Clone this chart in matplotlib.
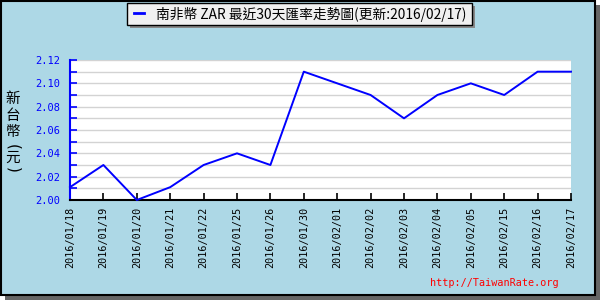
import matplotlib.pyplot as plt
import matplotlib.patches as mpatches
import numpy as np

plt.rcParams['font.family'] = ['DejaVu Sans Mono', 'Noto Sans CJK TC']

DATES = ["2016/01/18", "2016/01/19", "2016/01/20", "2016/01/21", "2016/01/22",
         "2016/01/25", "2016/01/26", "2016/01/30", "2016/02/01", "2016/02/02",
         "2016/02/03", "2016/02/04", "2016/02/05", "2016/02/15", "2016/02/16",
         "2016/02/17"]
RATES = [2.011, 2.030, 2.000, 2.011, 2.030, 2.040, 2.030, 2.110, 2.100, 2.090,
         2.070, 2.090, 2.100, 2.090, 2.110, 2.110]
Y_TICKS = [2.00, 2.02, 2.04, 2.06, 2.08, 2.10, 2.12]

TITLE = "南非幣 ZAR 最近30天匯率走勢圖(更新:2016/02/17)"
Y_LABEL = "新台幣(元)"
FOOTER = "http://TaiwanRate.org"

BG = "#add8e6"
W, H = 600, 300
CJK = ["Noto Sans CJK TC", "DejaVu Sans"]


def px(x0, y0, w, h):
    # pixel box (top-left origin) -> figure fraction (x, y, w, h)
    return (x0 / W, 1 - (y0 + h) / H, w / W, h / H)


def rect(x0, y0, w, h, **kw):
    x, y, ww, hh = px(x0, y0, w, h)
    return mpatches.Rectangle((x, y), ww, hh, transform=fig.transFigure, **kw)


fig = plt.figure(figsize=(6, 3), dpi=100)
fig.patch.set_facecolor("white")

# shadow + light-blue panel
fig.add_artist(rect(5, 5, 595, 295, facecolor="#666666", edgecolor="none", zorder=-20))
fig.add_artist(rect(0.5, 0.5, 594, 294, facecolor=BG, edgecolor="black",
                    linewidth=1.5, zorder=-10))

ax = fig.add_axes(px(70, 60, 501, 140))
ax.set_facecolor("white")
x = np.arange(len(DATES))
ax.plot(x, RATES, color="#0000ff", linewidth=1.4, zorder=3, clip_on=False)

ax.set_xlim(0, len(DATES) - 1)
ax.set_ylim(2.00, 2.12)
ax.set_yticks(Y_TICKS)
ax.set_yticklabels([f"{v:.2f}" for v in Y_TICKS], color="#0000ff", fontsize=7.5)
ax.set_yticks(np.arange(2.00, 2.121, 0.01), minor=True)
ax.grid(axis="y", which="both", color="#d3d3d3", linewidth=1)
ax.set_axisbelow(True)

ax.set_xticks(x)
ax.set_xticklabels(DATES, rotation=90, fontsize=7.3, color="black")

ax.tick_params(axis="y", which="both", direction="in", color="#0000ff",
               length=5, width=1.2, pad=7)
ax.tick_params(axis="x", direction="in", color="black", length=5, width=1.2, pad=5)

for s in ["top", "right"]:
    ax.spines[s].set_visible(False)
ax.spines["left"].set_color("#0000ff")
ax.spines["left"].set_linewidth(1.5)
ax.spines["bottom"].set_color("black")
ax.spines["bottom"].set_linewidth(1.5)

# vertical y label: upright characters, parentheses turned sideways
label_y = [99, 116, 132, 147, 158, 170]
for ch, yy in zip(Y_LABEL, label_y):
    if ch in "()":
        fig.text(13 / W, 1 - yy / H, ch, ha="center", va="center", rotation=-90,
                 fontsize=11, family="DejaVu Sans")
    else:
        fig.text(13 / W, 1 - yy / H, ch, ha="center", va="center",
                 fontsize=10.5, family=CJK)

# title box with shadow
fig.add_artist(rect(130, 6, 345, 22, facecolor="#888888", edgecolor="none"))
fig.add_artist(rect(127, 3, 345, 22, facecolor="#f0f0f0", edgecolor="black", linewidth=1))
fig.add_artist(plt.Line2D([134 / W, 144 / W], [1 - 13 / H, 1 - 13 / H],
                          transform=fig.transFigure, color="#0000ff", linewidth=2))
fig.text(156 / W, 1 - 14 / H, TITLE, ha="left", va="center", fontsize=9.9, family=CJK)

fig.text(559 / W, 1 - 283 / H, FOOTER, ha="right", va="center", fontsize=7.3,
         color="red")

fig.savefig("out.png", dpi=100, facecolor=fig.get_facecolor())
